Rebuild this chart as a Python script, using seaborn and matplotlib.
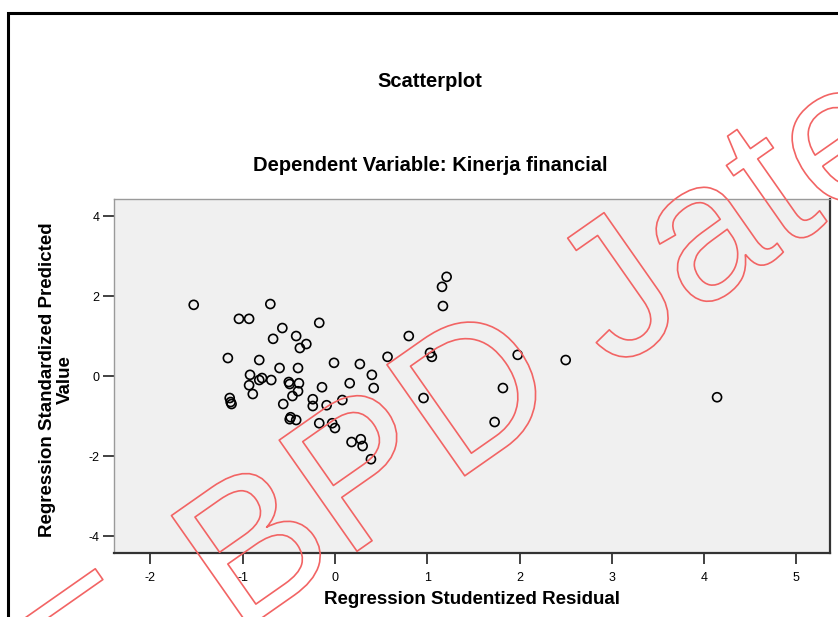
import matplotlib
matplotlib.use("Agg")
import matplotlib.pyplot as plt
import matplotlib.patheffects as pe
from matplotlib.patches import Rectangle
import seaborn as sns
import pandas as pd

# regression residual diagnostics
studentized_residual = [
    -1.53, -1.04, -0.93, -0.70, -0.17, -0.57, -0.42, -0.67, -0.31, -0.38,
    -1.16, -0.82, -0.60, -0.40, -0.01, 0.27, 0.57, 0.80, 1.03, 1.05,
    1.21, 1.16, 1.17, 1.98, 2.50, 4.14, 1.82, 1.73, 0.96, 0.40,
    0.42, 0.16, -0.14, 0.08, -0.09, -0.24, -0.24, -0.17, -0.03, 0.00,
    0.18, 0.28, 0.30, 0.39, -0.92, -0.93, -0.82, -0.79, -0.69, -0.89,
    -1.14, -1.13, -1.12, -0.50, -0.49, -0.39, -0.40, -0.46, -0.56, -0.48,
    -0.49, -0.42,
]
standardized_predicted = [
    1.78, 1.43, 1.43, 1.80, 1.33, 1.20, 1.00, 0.93, 0.80, 0.70,
    0.45, 0.40, 0.20, 0.20, 0.33, 0.30, 0.48, 1.00, 0.58, 0.48,
    2.48, 2.23, 1.75, 0.53, 0.40, -0.53, -0.30, -1.15, -0.55, 0.03,
    -0.30, -0.18, -0.28, -0.60, -0.73, -0.58, -0.75, -1.18, -1.18, -1.30,
    -1.65, -1.58, -1.75, -2.08, 0.03, -0.23, -0.10, -0.05, -0.10, -0.45,
    -0.55, -0.65, -0.70, -0.15, -0.20, -0.18, -0.38, -0.50, -0.70, -1.03,
    -1.08, -1.10,
]
x_ticks = [-2, -1, 0, 1, 2, 3, 4, 5]
y_ticks = [-4, -2, 0, 2, 4]

title_main = "Scatterplot"
title_sub = "Dependent Variable: Kinerja financial"
x_label = "Regression Studentized Residual"
y_label = "Regression Standardized Predicted\nValue"
watermark = "BPD Jateng"

df = pd.DataFrame({"resid": studentized_residual, "pred": standardized_predicted})

sns.set_style("white")
plt.rcParams["font.family"] = ["Liberation Sans", "DejaVu Sans"]
plt.rcParams["text.color"] = "black"

fig = plt.figure(figsize=(8.38, 6.17), dpi=100)
ax = fig.add_axes([0.1360, 0.1037, 0.8544, 0.5737])
ax.set_facecolor("#f0f0f0")

sns.scatterplot(data=df, x="resid", y="pred", ax=ax, marker="o", s=42,
                facecolor="none", edgecolor="black", linewidth=1.2, zorder=3)

ax.set_xlim(-2.394, 5.363)
ax.set_ylim(-4.425, 4.425)
ax.set_xticks(x_ticks)
ax.set_yticks(y_ticks)
ax.set_xticklabels([str(t) for t in x_ticks])
ax.set_yticklabels([str(t) for t in y_ticks])
ax.tick_params(axis="both", direction="out", length=8, width=1.3,
               color="#333333", labelsize=9, labelcolor="black",
               bottom=True, left=True)
ax.tick_params(axis="x", pad=5.5)
ax.tick_params(axis="y", pad=2.5)

for side in ["top", "left"]:
    ax.spines[side].set_color("#9a9a9a")
    ax.spines[side].set_linewidth(1.0)
for side in ["bottom", "right"]:
    ax.spines[side].set_color("#333333")
    ax.spines[side].set_linewidth(1.6)

ax.set_xlabel(x_label, fontsize=13.5, fontweight="bold", color="black")
ax.set_ylabel(y_label, fontsize=13.5, fontweight="bold", color="black",
              linespacing=1.1)
ax.xaxis.set_label_coords(0.5, -0.108)
ax.yaxis.set_label_coords(-0.056, 0.49)

fig.text(0.513, 0.868, title_main, ha="center", va="center",
         fontsize=14.5, fontweight="bold", color="black")
fig.text(0.513, 0.732, title_sub, ha="center", va="center",
         fontsize=14.5, fontweight="bold", color="black")

# black frame around the chart (SPSS output box)
frame = Rectangle((8 / 838, -0.2), 1.3, 1.2 - 13 / 617, transform=fig.transFigure,
                  fill=False, edgecolor="black", linewidth=2.2, clip_on=False)
fig.patches.append(frame)

# outlined red watermark
wm_style = dict(fontsize=142, rotation=35, rotation_mode="anchor", ha="left",
                va="baseline", color="none", family="Liberation Sans", zorder=10,
                path_effects=[pe.Stroke(linewidth=1.2, foreground="#f26464")])
fig.text(236 / 838, 1 - 636 / 617, watermark, **wm_style)
fig.text(38 / 838, 1 - 678 / 617, "\u2013", **wm_style)

fig.savefig("out.png", dpi=100)
